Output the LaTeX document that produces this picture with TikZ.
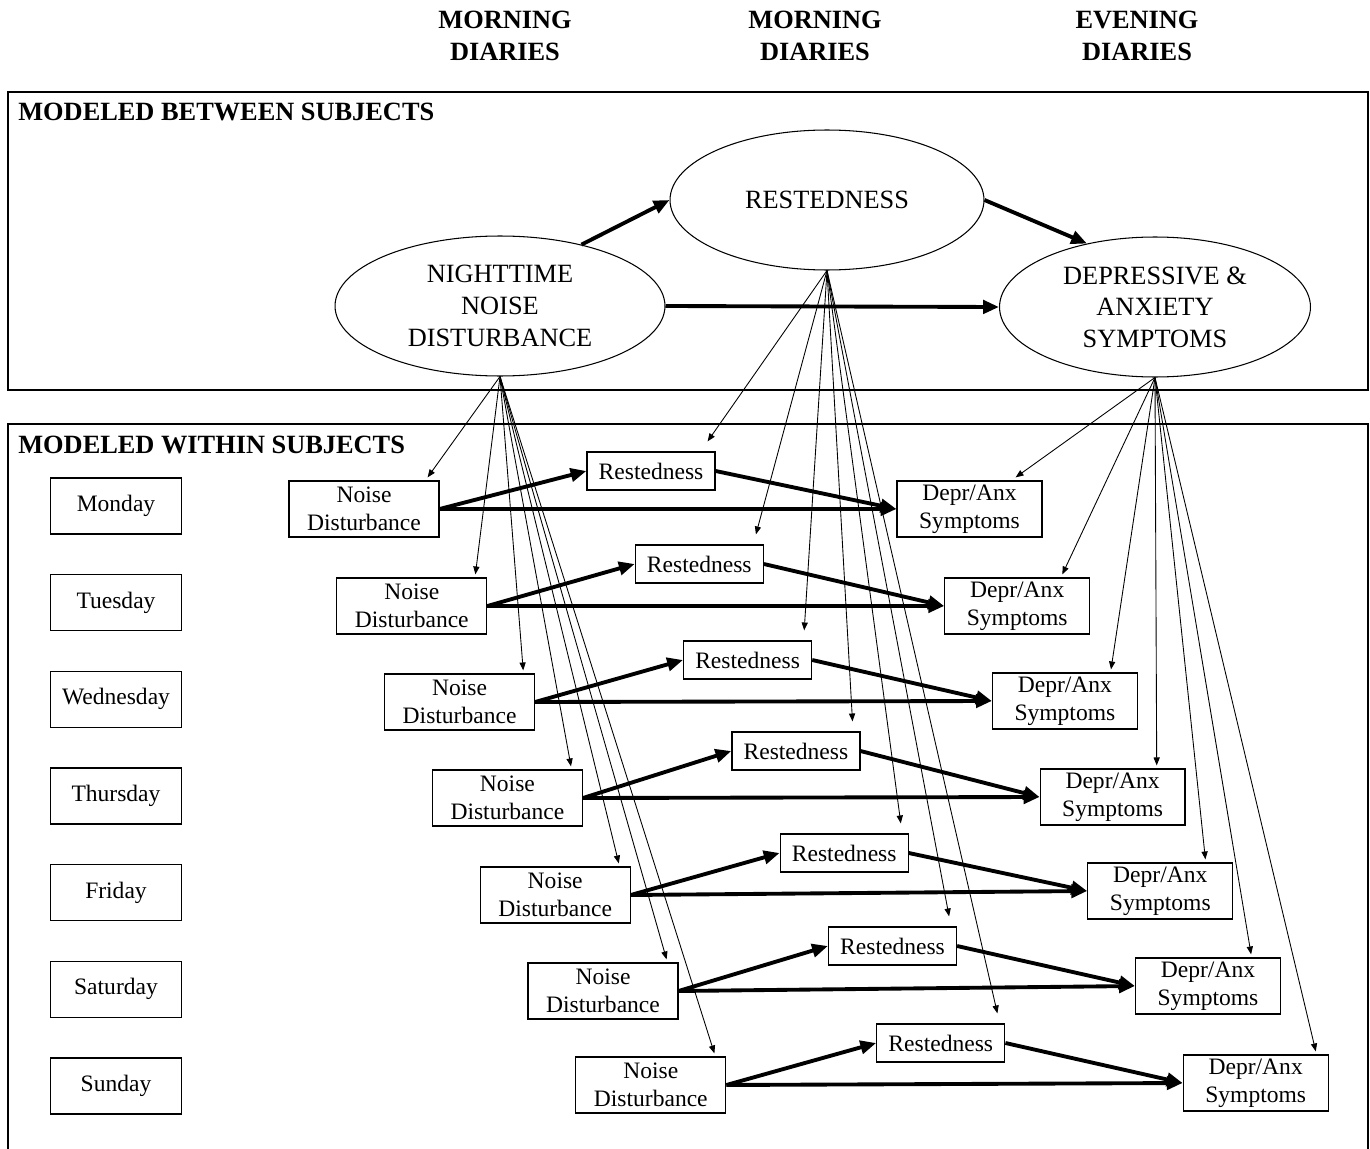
\documentclass[tikz,border=0pt]{standalone}
\usepackage{fontspec}
\setmainfont{Liberation Serif}
\usetikzlibrary{shapes.geometric,arrows.meta,calc}

\begin{document}
\begin{tikzpicture}[x=0.02cm,y=-0.02cm,
    title/.style={font=\fontsize{15}{18}\selectfont\bfseries,inner sep=0pt},
    oval/.style={ellipse,draw,line width=0.6pt,minimum height=2.8cm,inner sep=0pt,
        align=center,font=\fontsize{15}{18}\selectfont},
    box/.style={draw,line width=0.7pt,inner sep=0pt,align=center,
        font=\fontsize{13.4}{16}\selectfont,minimum height=1.12cm},
    path/.style={line width=2.2pt,-{Triangle[length=9pt,width=7.5pt]}},
    link/.style={line width=0.5pt,-{Triangle[length=4.5pt,width=3.5pt]}}]
    \useasboundingbox (0,0) rectangle (1370,1149);
    \node[title,align=center] (morn1) at (505,36) {MORNING\\DIARIES};
    \node[title,align=center] (morn2) at (815,36) {MORNING\\DIARIES};
    \node[title,align=center] (even) at (1137,36) {EVENING\\DIARIES};
    \draw[line width=0.7pt] (8,92) rectangle (1368,390);
    \draw[line width=0.7pt] (8,1149) |- (1368,424) -- (1368,1149);
    \node[title,anchor=west] (between) at (18,112) {MODELED BETWEEN SUBJECTS};
    \node[title,anchor=west] (within) at (18,445) {MODELED WITHIN SUBJECTS};
    \node[oval,minimum width=6.6cm] (noise) at (500,306) {NIGHTTIME\\NOISE\\DISTURBANCE};
    \node[oval,minimum width=6.28cm] (rest) at (827,200) {RESTEDNESS};
    \node[oval,minimum width=6.22cm] (depr) at (1155,307) {DEPRESSIVE \&\\ANXIETY\\SYMPTOMS};
    \draw[path] (noise.37) -- (rest.west);
    \draw[path] (rest.east) -- (depr.137);
    \draw[path] (noise.east) -- (depr.west);
    \foreach \i/\day/\ny/\ry/\dy/\dt in {0/Monday/509/471/509/27,
        1/Tuesday/606/564/606/28, 2/Wednesday/702/660/701/27,
        3/Thursday/798/751/797/29, 4/Friday/895/853/891/28,
        5/Saturday/991/946/986/30, 6/Sunday/1085/1043/1083/13} {
        \node[box,minimum width=2.62cm] (day\i) at (116,{506+96.67*\i}) {\day};
        \node[box,minimum width=3cm] (nd\i) at ({364+47.8*\i},\ny) {Noise\\Disturbance};
        \node[box,minimum width=2.56cm,minimum height=0.76cm] (rs\i) at ({651+48.3*\i},\ry) {Restedness};
        \node[box,minimum width=2.9cm] (da\i) at ({969.5+47.7*\i},\dy) {Depr/Anx\\Symptoms};
        \draw[path] (nd\i.east) -- (rs\i.west);
        \draw[path] (nd\i.east) -- (da\i.west);
        \draw[path] (rs\i.east) -- (da\i.west);
        \draw[link] (noise.south) -- ($(nd\i.north east)+(-12,-3)$);
        \draw[link] (rest.south) -- ($(rs\i.north east)+(-8,-10)$);
        \draw[link] (depr.south) -- ($(da\i.north east)+(-\dt,-3)$);
    }
\end{tikzpicture}
\end{document}
